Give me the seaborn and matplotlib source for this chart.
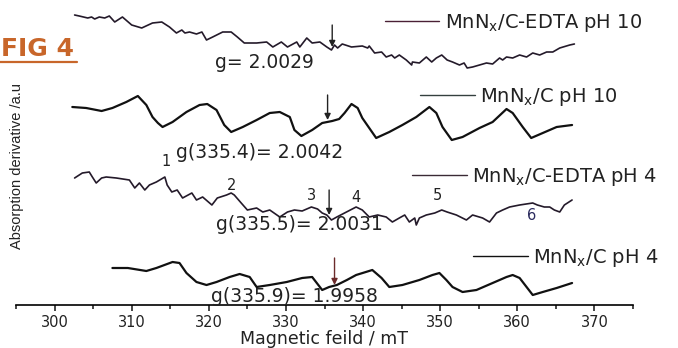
import matplotlib
matplotlib.use('Agg')
import matplotlib.pyplot as plt
import seaborn as sns
from matplotlib.lines import Line2D
from matplotlib.ticker import MultipleLocator

# EPR spectra, field in mT, signal in arbitrary units (offset per sample)
field_edta_ph10 = [302.6, 303.2, 304.3, 304.8, 305.2, 305.8, 306.5, 307.1, 307.8, 308.8,
                   310.0, 311.3, 312.7, 313.9, 314.9, 315.8, 316.5, 316.9, 317.5, 318.4,
                   319.1, 319.7, 320.5, 321.8, 322.9, 323.7, 324.6, 326.2, 327.5, 328.3,
                   329.4, 330.2, 331.4, 331.8, 332.7, 333.4, 334.4, 335.3, 335.9, 336.3,
                   336.7, 337.3, 338.5, 339.9, 340.6, 340.8, 341.5, 342.4, 343.0, 343.7,
                   344.1, 344.7, 345.6, 346.3, 346.4, 347.3, 348.2, 348.9, 349.5, 350.2,
                   350.9, 351.6, 352.5, 353.1, 353.5, 354.2, 355.1, 356.0, 356.8, 357.7,
                   358.1, 358.6, 359.4, 360.3, 361.2, 362.0, 362.9, 363.8, 364.6, 365.5,
                   366.8, 367.4]
sig_edta_ph10 = [290, 289, 287, 288, 286, 288, 287, 289, 283, 288,
                 280, 277, 282, 283, 278, 272, 275, 272, 273, 271,
                 273, 265, 268, 273, 273, 268, 262, 262, 263, 258,
                 263, 258, 263, 258, 267, 262, 263, 258, 255, 260,
                 257, 261, 258, 259, 257, 259, 252, 253, 248, 250,
                 247, 250, 245, 240, 243, 242, 248, 243, 247, 250,
                 245, 243, 240, 242, 237, 238, 240, 242, 241, 247,
                 245, 248, 247, 250, 248, 252, 250, 253, 253, 257,
                 260, 261]

field_c_ph10 = [302.3, 304.1, 306.1, 307.5, 309.3, 310.8, 311.9, 312.7, 313.4, 314.0,
                315.3, 317.1, 318.8, 319.8, 321.0, 322.0, 322.9, 324.4, 326.2, 327.9,
                329.2, 330.5, 331.1, 332.0, 333.4, 334.7, 336.0, 336.9, 337.6, 338.5,
                339.3, 339.9, 340.8, 341.7, 343.4, 345.1, 346.9, 348.6, 349.5, 350.3,
                351.5, 352.9, 355.1, 356.8, 358.6, 359.4, 360.7, 361.8, 363.3, 365.1,
                367.1]
sig_c_ph10 = [198, 197, 194, 197, 203, 209, 200, 188, 182, 178,
              183, 193, 200, 201, 195, 180, 173, 178, 185, 192,
              193, 188, 175, 169, 175, 182, 184, 186, 192, 201,
              197, 187, 177, 167, 173, 180, 188, 198, 192, 178,
              165, 168, 177, 183, 196, 192, 178, 167, 172, 178,
              180]

field_edta_ph4 = [302.6, 303.6, 304.5, 304.9, 305.4, 306.1, 306.7, 308.0, 309.7, 310.4,
                  311.0, 311.7, 312.3, 313.2, 314.3, 314.6, 315.2, 315.9, 316.6, 317.8,
                  318.4, 319.2, 320.4, 321.1, 322.3, 322.9, 323.3, 324.2, 325.0, 326.2,
                  327.0, 327.9, 329.2, 330.2, 331.1, 332.1, 333.3, 334.1, 334.7, 335.3,
                  335.9, 336.6, 337.6, 339.1, 339.9, 340.8, 341.9, 343.0, 343.8, 344.7,
                  345.4, 346.0, 346.7, 346.9, 347.3, 348.2, 349.3, 350.2, 350.9, 352.1,
                  353.4, 354.2, 355.5, 356.4, 357.3, 358.1, 359.0, 360.3, 362.0, 362.6,
                  363.5, 364.2, 364.8, 365.5, 366.1, 367.1]
sig_edta_ph4 = [127, 132, 133, 128, 122, 127, 128, 127, 125, 117,
                122, 115, 120, 123, 128, 120, 113, 115, 107, 112,
                105, 108, 100, 107, 110, 112, 110, 102, 95, 97,
                93, 95, 88, 93, 95, 94, 98, 96, 92, 90,
                85, 88, 92, 98, 95, 88, 90, 88, 83, 87,
                90, 83, 87, 80, 87, 90, 92, 95, 93, 90,
                85, 90, 87, 83, 92, 95, 98, 100, 102, 100,
                98, 98, 95, 93, 100, 105]

field_c_ph4 = [307.5, 309.5, 311.9, 313.2, 315.3, 316.2, 317.1, 318.4, 319.7, 321.0,
               322.7, 324.0, 325.3, 326.2, 327.9, 330.1, 332.1, 333.4, 334.7, 335.6,
               336.6, 337.9, 339.1, 341.2, 342.4, 343.4, 345.1, 347.3, 349.0, 349.9,
               350.8, 351.6, 352.9, 354.7, 356.8, 358.6, 359.4, 360.3, 361.2, 362.0,
               363.3, 365.1, 367.1]
sig_c_ph4 = [37, 37, 34, 37, 43, 42, 32, 23, 20, 23,
             28, 31, 28, 18, 20, 23, 27, 28, 15, 18,
             20, 25, 30, 35, 27, 18, 20, 25, 30, 32,
             25, 18, 13, 15, 22, 28, 30, 27, 18, 10,
             13, 17, 22]

labels = [r'MnN$_\mathregular{x}$/C-EDTA pH 10', r'MnN$_\mathregular{x}$/C pH 10',
          r'MnN$_\mathregular{x}$/C-EDTA pH 4', r'MnN$_\mathregular{x}$/C pH 4']
g_labels = ['g= 2.0029', 'g(335.4)= 2.0042', 'g(335.5)= 2.0031', 'g(335.9)= 1.9958']
peak_numbers = ['1', '2', '3', '4', '5', '6']

sns.set_style('white')
plt.rcParams['font.family'] = ['DejaVu Sans']

fig = plt.figure(figsize=(6.78, 3.48), dpi=100)
ax = fig.add_axes([16 / 678, 43 / 348, 617 / 678, 305 / 348])

curves = [(field_edta_ph10, sig_edta_ph10, '#241a2a', 1.2),
          (field_c_ph10, sig_c_ph10, '#111111', 1.6),
          (field_edta_ph4, sig_edta_ph4, '#241a2a', 1.2),
          (field_c_ph4, sig_c_ph4, '#111111', 1.6)]
for xs, ys, c, w in curves:
    sns.lineplot(x=xs, y=ys, ax=ax, color=c, lw=w, sort=False,
                 estimator=None, legend=False)

ax.set_xlim(295, 375)
ax.set_ylim(0, 305)
ax.set_xticks(range(300, 371, 10))
ax.xaxis.set_minor_locator(MultipleLocator(5))
ax.set_yticks([])
for s in ['left', 'top', 'right']:
    ax.spines[s].set_visible(False)
ax.spines['bottom'].set_linewidth(1.2)
ax.spines['bottom'].set_color('black')
ax.tick_params(axis='x', which='major', direction='out', length=4, width=1.2,
               labelsize=10.5, labelcolor='#222222', pad=3, bottom=True)
ax.tick_params(axis='x', which='minor', direction='out', length=3, width=1.2,
               bottom=True)
ax.set_xlabel('Magnetic feild / mT', fontsize=12.5, color='#222222', labelpad=0)
ax.set_ylabel('Absorption derivative /a.u', fontsize=10.5, color='#222222',
              family='Liberation Sans', va='center')
ax.yaxis.set_label_coords(1 / 617, 0.456)

# per-sample legends next to each trace
leg_pos = [(0.598, 0.925), (0.655, 0.682), (0.642, 0.420), (0.741, 0.154)]
leg_colors = ['#4a2035', '#34403f', '#3a2a35', '#111111']
for lab, pos, c in zip(labels, leg_pos, leg_colors):
    leg = ax.legend(handles=[Line2D([], [], color=c, lw=1)], labels=[lab],
                    loc='center left', bbox_to_anchor=pos, frameon=False,
                    fontsize=14, handlelength=2.8, handletextpad=0.3,
                    borderpad=0, borderaxespad=0, labelcolor='#222222')
    ax.add_artist(leg)
ax.legend_ = None

# g-values and arrows
g_pos = [(327.2, 243), (326.6, 153), (331.8, 80), (331.1, 9)]
for txt, (x, y) in zip(g_labels, g_pos):
    ax.text(x, y, txt, ha='center', va='center', fontsize=13.5, color='#222222')

arrows = [(336.0, 280, 258, '#222222'), (335.4, 210, 185, '#222222'),
          (335.6, 115, 90, '#222222'), (336.3, 47, 20, '#6b2b2b')]
for x, top, tip, c in arrows:
    ax.annotate('', xy=(x, tip), xytext=(x, top),
                arrowprops=dict(arrowstyle='-|>', color=c, lw=1,
                                mutation_scale=9, shrinkA=0, shrinkB=0))

num_pos = [(314.5, 143), (322.9, 120), (333.3, 110), (339.1, 108), (349.6, 110), (361.8, 90)]
num_colors = ['#222222'] * 5 + ['#2b2b5e']
for n, (x, y), c in zip(peak_numbers, num_pos, num_colors):
    ax.text(x, y, n, ha='center', va='center', fontsize=10.5, color=c)

fig.text(0.001, 1 - 49 / 348, 'FIG 4', ha='left', va='center', fontsize=18,
         weight='bold', color='#c8662a')
fig.add_artist(Line2D([0, 77 / 678], [1 - 62 / 348] * 2, color='#c8662a', lw=1.6,
                      transform=fig.transFigure))

fig.savefig('out.png', dpi=100)
